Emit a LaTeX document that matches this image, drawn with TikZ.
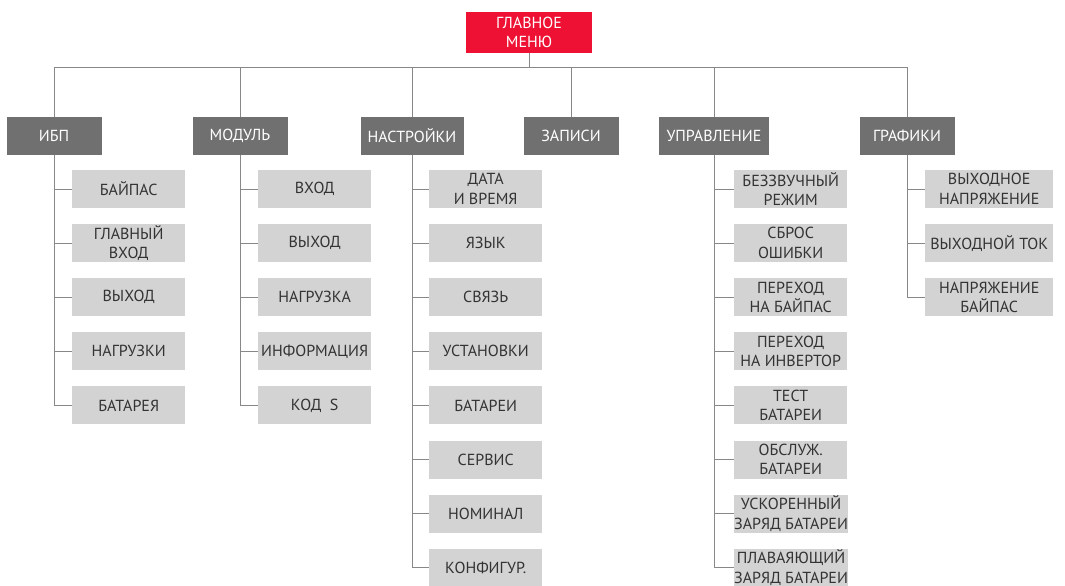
\documentclass[tikz,border=0pt]{standalone}
\usepackage{fontspec}
\setmainfont{PT Sans}
\usepackage{tikz}
\usetikzlibrary{positioning}
\definecolor{menured}{HTML}{EE1133}
\definecolor{catgray}{HTML}{707070}
\definecolor{itemgray}{HTML}{D3D3D3}
\definecolor{itemtext}{HTML}{333333}
\definecolor{linkgray}{HTML}{888888}

\begin{document}
\begin{tikzpicture}[x=1pt, y=1pt, font=\fontsize{16}{19.5}\selectfont,
  root/.style={fill=menured, text=white, minimum width=126pt,
               minimum height=41pt, inner sep=0pt, align=center},
  cat/.style={fill=catgray, text=white, minimum width=95pt,
              minimum height=38pt, inner sep=0pt},
  item/.style={fill=itemgray, text=itemtext, anchor=west, minimum width=113pt,
               minimum height=38pt, inner sep=0pt, align=center},
  link/.style={draw=linkgray, line width=0.9pt}
]
\useasboundingbox (0,0) rectangle (1065,-586);

% main menu and bus
\node[root] (menu) at (529,-32.5) {ГЛАВНОЕ\\МЕНЮ};
\path (menu.south) ++(0,-14) coordinate (bus);
\draw[link] (menu.south) -- (bus);

% categories
\node[cat] (ups)     at (54,-136)  {ИБП};
\node[cat] (module)  at (240,-136) {МОДУЛЬ};
\node[cat, minimum width=103pt] (setup) at (412,-136) {НАСТРОЙКИ};
\node[cat] (log)     at (571,-136) {ЗАПИСИ};
\node[cat, minimum width=110pt] (control) at (714,-136) {УПРАВЛЕНИЕ};
\node[cat] (graph)   at (907,-136) {ГРАФИКИ};
\foreach \c in {ups,module,setup,log,control,graph} \draw[link] (\c.north) |- (bus);

% submenus
\foreach \t [count=\i] in {БАЙПАС, {ГЛАВНЫЙ\\ВХОД}, ВЫХОД, НАГРУЗКИ, БАТАРЕЯ} {
  \node[item] (ups\i) at (72,{-189-54.1*(\i-1)}) {\t};
  \draw[link] (ups.south) |- (ups\i.west);
}
\foreach \t [count=\i] in {ВХОД, ВЫХОД, НАГРУЗКА, ИНФОРМАЦИЯ, КОД~~S} {
  \node[item] (module\i) at (258,{-189-54.1*(\i-1)}) {\t};
  \draw[link] (module.south) |- (module\i.west);
}
\foreach \t [count=\i] in {{ДАТА\\И ВРЕМЯ}, ЯЗЫК, СВЯЗЬ, УСТАНОВКИ, БАТАРЕИ,
                           СЕРВИС, НОМИНАЛ, КОНФИГУР.} {
  \node[item] (setup\i) at (429,{-189-54.1*(\i-1)}) {\t};
  \draw[link] (setup.south) |- (setup\i.west);
}
\foreach \t [count=\i] in {{БЕЗЗВУЧНЫЙ\\РЕЖИМ}, {СБРОС\\ОШИБКИ}, {ПЕРЕХОД\\НА БАЙПАС},
                           {ПЕРЕХОД\\НА ИНВЕРТОР}, {ТЕСТ\\БАТАРЕИ}, {ОБСЛУЖ.\\БАТАРЕИ},
                           {УСКОРЕННЫЙ\\ЗАРЯД БАТАРЕИ}, {ПЛАВАЯЮЩИЙ\\ЗАРЯД БАТАРЕИ}} {
  \node[item] (control\i) at (734,{-189-54.1*(\i-1)}) {\t};
  \draw[link] (control.south) |- (control\i.west);
}
\foreach \t [count=\i] in {{ВЫХОДНОЕ\\НАПРЯЖЕНИЕ}, ВЫХОДНОЙ ТОК, {НАПРЯЖЕНИЕ\\БАЙПАС}} {
  \node[item, minimum width=128pt] (graph\i) at (925,{-189-54.1*(\i-1)}) {\t};
  \draw[link] (graph.south) |- (graph\i.west);
}
\end{tikzpicture}
\end{document}
